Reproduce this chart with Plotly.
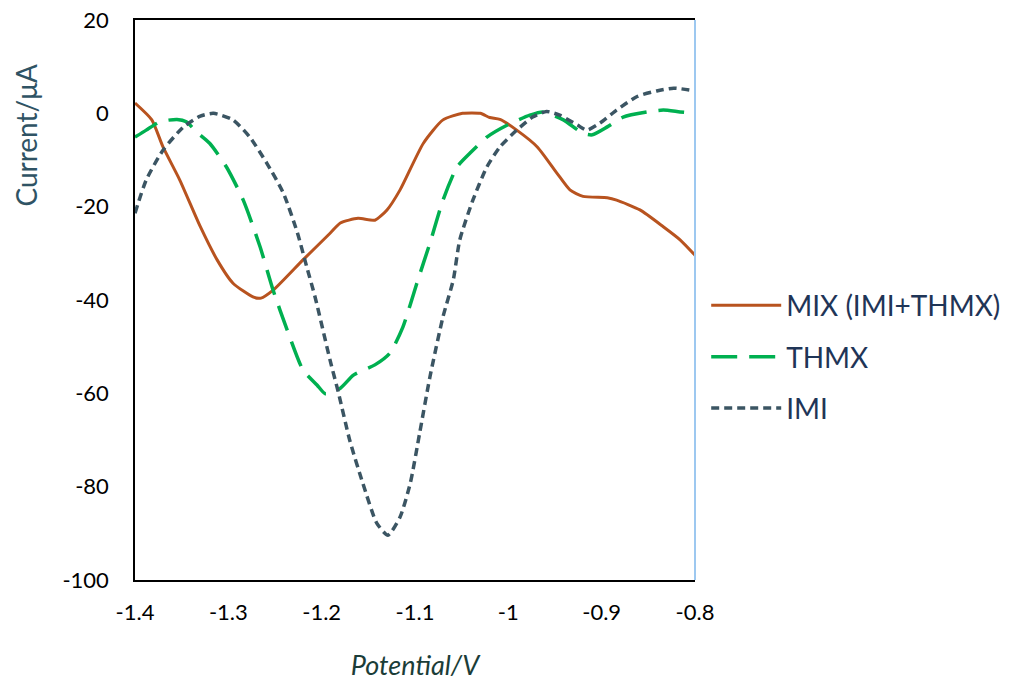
import plotly.graph_objects as go

# ---- data ----
mix_x = [-1.400, -1.382, -1.370, -1.352, -1.330, -1.312, -1.295, -1.273, -1.265, -1.252,
         -1.220, -1.191, -1.180, -1.161, -1.143, -1.130, -1.116, -1.091, -1.070, -1.049,
         -1.030, -1.020, -1.009, -0.991, -0.969, -0.948, -0.934, -0.920, -0.894, -0.884,
         -0.859, -0.834, -0.816, -0.800]
mix_y = [2.2, -1.4, -7.2, -14.3, -24.3, -31.4, -36.4, -39.4, -39.6, -37.9,
         -31.4, -25.7, -23.5, -22.5, -22.9, -20.7, -16.4, -6.4, -1.4, 0.0,
         0.0, -0.9, -1.3, -3.6, -7.2, -12.8, -16.4, -17.8, -18.1, -18.6,
         -20.7, -24.3, -27.1, -30.4]

thmx_x = [-1.400, -1.388, -1.373, -1.355, -1.345, -1.334, -1.320, -1.302, -1.284, -1.266,
          -1.252, -1.237, -1.220, -1.205, -1.196, -1.180, -1.166, -1.143, -1.127, -1.113,
          -1.098, -1.084, -1.070, -1.055, -1.041, -1.023, -1.001, -0.977, -0.963, -0.941,
          -0.920, -0.910, -0.894, -0.877, -0.851, -0.834, -0.816, -0.800]
thmx_y = [-5.1, -3.6, -1.8, -1.3, -1.8, -4.0, -6.4, -11.5, -18.6, -28.6,
          -37.9, -46.4, -55.0, -58.2, -60.1, -58.9, -56.1, -53.9, -51.4, -45.8,
          -36.4, -27.8, -18.6, -11.5, -8.5, -5.1, -2.5, -0.4, 0.3, -1.4,
          -4.3, -4.6, -2.9, -0.8, 0.3, 0.7, 0.3, 0.0]

imi_x = [-1.400, -1.388, -1.370, -1.348, -1.330, -1.316, -1.295, -1.277, -1.259, -1.241,
         -1.226, -1.216, -1.207, -1.191, -1.182, -1.170, -1.156, -1.141, -1.129, -1.116,
         -1.105, -1.095, -1.084, -1.070, -1.059, -1.052, -1.038, -1.023, -1.009, -0.991,
         -0.974, -0.959, -0.945, -0.926, -0.916, -0.902, -0.884, -0.862, -0.841, -0.823,
         -0.800]
imi_y = [-21.4, -14.3, -7.9, -2.9, -0.6, 0.0, -1.4, -5.1, -10.6, -17.1,
         -25.6, -32.9, -39.4, -52.9, -59.9, -70.0, -79.2, -87.8, -90.4, -86.5,
         -79.2, -68.5, -56.5, -43.6, -35.7, -27.1, -18.6, -11.5, -7.2, -3.6,
         -0.8, 0.4, -0.4, -2.5, -3.6, -2.1, 0.7, 3.6, 4.8, 5.4,
         4.8]

series_names = ["MIX (IMI+THMX)", "THMX", "IMI"]
x_ticks = [-1.4, -1.3, -1.2, -1.1, -1.0, -0.9, -0.8]
x_tick_text = ["-1.4", "-1.3", "-1.2", "-1.1", "-1", "-0.9", "-0.8"]
y_ticks = [20, 0, -20, -40, -60, -80, -100]
y_tick_text = ["20", "0", "-20", "-40", "-60", "-80", "-100"]

FONT = "Lato, 'Open Sans', sans-serif"

fig = go.Figure()
fig.add_trace(go.Scatter(x=mix_x, y=mix_y, name=series_names[0], mode="lines",
                         line=dict(color="#b8531f", width=3, shape="spline", smoothing=0.6),
                         legendgroup="a"))
fig.add_trace(go.Scatter(x=thmx_x, y=thmx_y, name=series_names[1], mode="lines",
                         line=dict(color="#00b050", width=3.5, shape="spline", smoothing=0.6,
                                   dash="26px,12px"),
                         legendgroup="b"))
fig.add_trace(go.Scatter(x=imi_x, y=imi_y, name=series_names[2], mode="lines",
                         line=dict(color="#3b5563", width=3.5, shape="spline", smoothing=0.6,
                                   dash="8px,5px"),
                         legendgroup="c"))

fig.update_layout(
    width=1010, height=685,
    margin=dict(l=135, r=315, t=20, b=105, autoexpand=False),
    paper_bgcolor="white", plot_bgcolor="white",
    font=dict(family=FONT, size=22, color="black"),
    showlegend=True,
    legend=dict(x=1.02, xanchor="left", y=0.398, yanchor="middle",
                font=dict(size=28, color="#1f3557"),
                tracegroupgap=12, itemwidth=70,
                bgcolor="rgba(0,0,0,0)"),
    xaxis=dict(range=[-1.4, -0.8], tickvals=x_ticks, ticktext=x_tick_text,
               showgrid=False, zeroline=False, showline=True, linecolor="black",
               linewidth=1.5, mirror=True, ticks="", ticklabelstandoff=12,
               automargin=False,
               tickfont=dict(size=22, color="black"),
               title=dict(text="<i>Potential/V</i>", font=dict(size=27, color="#1b3d38"),
                          standoff=32)),
    yaxis=dict(range=[-100, 20], tickvals=y_ticks, ticktext=y_tick_text,
               showgrid=False, zeroline=False, showline=True, linecolor="black",
               linewidth=1.5, ticks="", ticklabelstandoff=20, automargin=False,
               tickfont=dict(size=22, color="black")),
    shapes=[dict(type="line", xref="paper", yref="paper", x0=1, x1=1, y0=0, y1=1,
                 line=dict(color="#9dc8f0", width=2))],
    annotations=[dict(text="Current/μA", xref="paper", yref="paper",
                      x=-0.195, y=0.795, xanchor="center", yanchor="middle",
                      textangle=-90, showarrow=False,
                      font=dict(size=28, color="#2f5364", family=FONT))],
)

fig.write_html("out.html")
